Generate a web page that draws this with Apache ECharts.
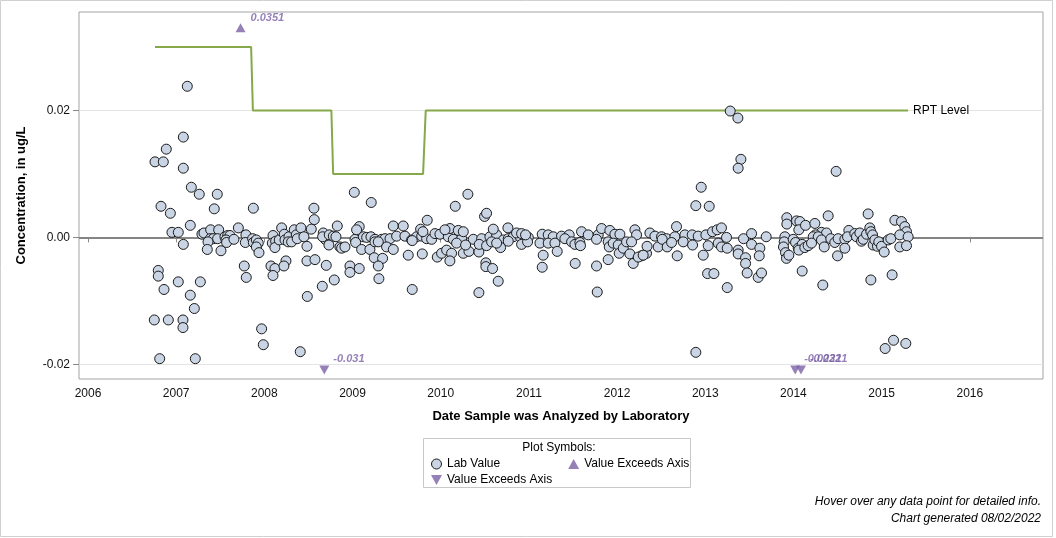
<!DOCTYPE html>
<html><head><meta charset="utf-8">
<script src="https://cdn.jsdelivr.net/npm/echarts@6/dist/echarts.min.js"></script>
<style>html,body{margin:0;padding:0;background:#fff}#c{width:1056px;height:538px}</style>
</head><body><div id="c"></div>
<script>
// Lab values: decimal year of analysis, concentration (ug/L)
const labDates = [
2007.126,2007.081,2006.888,2006.760,2006.854,2007.081,2007.172,2007.262,2007.466,2006.828,2006.934,2007.432,2007.875,2008.562,2008.566,2007.160,2006.952,2007.024,2007.081,
2007.292,2007.315,2007.391,2007.482,2007.387,2007.421,2007.470,2007.361,2007.353,2007.508,2007.553,2007.584,2007.610,2007.565,2007.572,2007.655,2007.705,2007.791,2007.784,2007.867,2007.875,2007.909,2007.931,2007.909,2007.939,2008.098,2008.090,2008.128,2008.120,2008.169,2008.196,2008.226,2008.234,2008.279,2008.271,2008.309,2008.339,2008.362,2008.373,2008.415,2008.449,2008.483,2008.532,2008.668,2008.691,2008.661,2008.736,2008.732,2008.782,2008.827,2008.812,2008.857,
2006.797,2006.797,2007.024,2006.862,2007.274,2007.160,2007.206,2006.752,2006.911,2007.077,2007.077,2007.772,2007.795,2008.075,2008.120,2008.098,2008.245,2008.222,2008.483,2008.574,2008.702,2008.657,2008.793,2008.487,2007.969,2007.988,2008.407,2006.813,2007.217,
2009.028,2009.122,2009.160,2009.209,2009.255,2009.330,2009.368,2009.425,2009.500,2009.594,2009.670,2009.727,2009.784,2009.840,2009.897,2009.935,2009.991,2010.086,2010.143,2010.237,2010.369,2010.464,2010.558,2010.634,2010.710,2010.766,2010.823,2010.899,2010.993,
2008.876,2008.914,2009.035,2009.103,2009.197,2009.254,2009.292,2009.386,2009.462,2009.632,2009.791,2009.677,2009.961,2010.010,2010.067,2010.123,2010.180,2010.104,2010.256,2010.320,2010.282,2010.433,2010.437,2010.520,2010.577,2010.679,2010.634,2010.766,2010.917,2010.985,
2008.971,2008.971,2009.076,2009.246,2009.341,2009.292,2009.299,2009.677,2010.512,2010.512,2010.588,2010.652,2010.433,
2009.020,2009.212,2010.308,2010.165,2010.497,2010.520,2009.847,2009.076,2009.046,2009.462,2009.575,2009.772,2009.798,2010.104,2010.048,2010.199,2010.256,2010.596,2010.762,2010.860,2010.917,2010.962,
2012.954,2012.893,2013.045,
2011.151,2011.219,2011.276,2011.370,2011.457,2011.597,2011.673,2011.786,2011.824,2011.918,2011.975,2012.032,2012.202,2012.221,2012.372,2012.429,2012.504,2012.561,2012.674,2012.655,2012.769,2012.852,2012.920,2013.007,2013.082,2013.135,2013.184,2013.241,
2011.125,2011.219,2011.295,2011.321,2011.408,2011.484,2011.522,2011.578,2011.585,2011.767,2011.899,2011.911,2011.956,2012.013,2012.024,2012.070,2012.107,2012.145,2012.164,2012.277,2012.334,2012.340,2012.466,2012.512,2012.568,2012.618,2012.750,2012.856,2013.033,2013.147,2013.184,2013.249,
2011.162,2011.151,2011.525,2011.767,2011.899,2012.183,2012.240,2012.296,2012.682,2012.977,2013.026,2013.098,2013.249,2011.775,2012.893,
2013.283,2013.370,2013.404,2013.373,2014.484,2014.847,2014.394,
2013.925,2013.925,2014.035,2014.073,2014.061,2014.137,2014.243,2014.318,2014.375,2014.250,2014.224,2014.281,2014.318,2014.349,2014.424,2014.469,2014.507,2014.583,2014.628,2014.613,2014.696,2014.715,2014.753,2014.772,2014.791,2014.829,2014.866,2014.878,2014.897,2014.904,2014.923,2014.953,2014.968,2014.999,2015.029,2015.074,2015.104,2015.150,2015.225,2015.263,2015.282,2015.206,2015.301,2015.206,2015.282,
2013.434,2013.525,2013.525,2013.373,2013.373,2013.457,2013.457,2013.619,2013.612,2013.691,2013.475,2013.600,2013.638,2013.903,2013.895,2013.887,2013.910,2013.921,2013.948,2013.997,2014.024,2014.054,2014.099,2014.061,2014.129,2014.167,2014.205,2014.099,2014.333,2014.500,2014.583,2014.878,2015.119,
2015.040,2015.135,2015.274
];
const labValues = [
0.0238,0.0158,0.0139,0.0119,0.0119,0.0109,0.0079,0.0068,0.0068,0.0049,0.0038,0.0045,0.0046,0.0046,0.0028,0.0019,0.0008,0.0008,-0.0011,
0.0005,0.0007,0.0012,0.0012,-0.0002,-0.0002,-0.0002,-0.0007,-0.0019,-0.0021,0.0001,0.0003,0.0003,-0.0004,-0.0008,-0.0003,0.0015,0.0004,-0.0008,-0.0002,-0.0008,-0.0004,-0.0009,-0.0015,-0.0024,0.0003,-0.0009,-0.0006,-0.0016,-0.0004,0.0015,0.0005,-0.0004,0.0001,-0.0007,-0.0007,0.0012,0.0004,-0.0002,0.0015,0.0001,-0.0014,0.0013,0.0007,-0.0003,0.0001,0.0004,-0.0012,0.0002,0.0018,0.0001,-0.0015,
-0.0052,-0.0061,-0.0070,-0.0082,-0.0070,-0.0091,-0.0112,-0.0130,-0.0130,-0.0130,-0.0142,-0.0045,-0.0063,-0.0045,-0.0049,-0.0060,-0.0037,-0.0045,-0.0037,-0.0035,-0.0044,-0.0077,-0.0067,-0.0093,-0.0144,-0.0169,-0.0180,-0.0191,-0.0191,
-0.0003,0.0001,0.0000,0.0001,-0.0003,-0.0003,-0.0002,-0.0002,0.0002,0.0002,-0.0004,0.0001,0.0002,-0.0002,-0.0003,0.0006,0.0005,0.0001,-0.0003,-0.0002,-0.0003,-0.0002,0.0001,0.0004,-0.0004,-0.0002,0.0001,0.0001,0.0000,
-0.0017,-0.0015,-0.0008,-0.0019,-0.0019,-0.0007,-0.0007,-0.0015,-0.0019,-0.0028,-0.0026,-0.0005,-0.0031,-0.0025,-0.0020,-0.0025,-0.0009,-0.0037,-0.0025,-0.0022,-0.0012,-0.0023,-0.0011,-0.0013,-0.0007,-0.0016,-0.0009,-0.0006,-0.0011,-0.0007,
-0.0045,-0.0055,-0.0049,-0.0032,-0.0033,-0.0045,-0.0065,-0.0082,-0.0040,-0.0046,-0.0049,-0.0069,-0.0087,
0.0071,0.0055,0.0068,0.0049,0.0033,0.0038,0.0027,0.0017,0.0012,0.0018,0.0018,0.0013,0.0009,0.0014,0.0012,0.0011,0.0009,0.0013,0.0015,0.0007,0.0006,0.0004,
0.0079,0.0050,0.0049,
0.0005,0.0004,0.0001,0.0002,0.0004,0.0009,0.0004,0.0004,0.0014,0.0011,0.0005,0.0005,0.0012,0.0004,0.0007,0.0002,0.0001,-0.0002,0.0017,0.0001,0.0004,0.0004,0.0002,0.0004,0.0009,0.0012,0.0015,0.0000,
-0.0009,-0.0009,-0.0009,-0.0022,-0.0002,-0.0007,-0.0011,-0.0008,-0.0013,-0.0003,-0.0007,-0.0015,-0.0009,-0.0012,-0.0025,-0.0017,-0.0007,-0.0026,-0.0007,-0.0029,-0.0025,-0.0014,-0.0015,-0.0003,-0.0015,-0.0008,-0.0007,-0.0012,-0.0013,-0.0009,-0.0015,-0.0017,
-0.0028,-0.0047,-0.0041,-0.0045,-0.0035,-0.0041,-0.0031,-0.0028,-0.0029,-0.0028,-0.0057,-0.0057,-0.0079,-0.0086,-0.0181,
0.0199,0.0188,0.0123,0.0109,0.0104,0.0037,0.0034,
0.0031,0.0021,0.0026,0.0025,0.0012,0.0019,0.0022,0.0008,0.0007,0.0004,0.0001,0.0001,-0.0004,-0.0015,-0.0002,-0.0008,-0.0002,-0.0003,0.0011,0.0001,0.0006,0.0001,0.0007,-0.0006,-0.0003,0.0005,0.0015,0.0009,0.0004,-0.0012,-0.0004,-0.0014,-0.0007,-0.0014,-0.0023,-0.0004,-0.0002,0.0027,0.0025,0.0017,0.0009,0.0004,0.0001,-0.0015,-0.0013,
-0.0002,0.0006,-0.0011,-0.0020,-0.0026,-0.0032,-0.0041,-0.0017,-0.0029,0.0001,-0.0056,-0.0063,-0.0056,0.0001,-0.0007,-0.0015,-0.0024,-0.0033,-0.0028,-0.0003,-0.0008,-0.0017,-0.0011,-0.0020,-0.0016,-0.0013,-0.0009,-0.0053,-0.0075,-0.0029,-0.0017,-0.0067,-0.0059,
-0.0175,-0.0162,-0.0167
];
// RPT level step line
const rptDates  = [2006.76, 2007.85, 2007.87, 2008.76, 2008.78, 2009.80, 2009.83, 2015.30];
const rptValues = [0.03, 0.03, 0.02, 0.02, 0.01, 0.01, 0.02, 0.02];
// values that exceed the axis range
const upDates = [2007.73];
const upValues = [0.0351];
const downDates = [2008.68, 2014.02, 2014.085];
const downValues = [-0.031, -0.0221, -0.0321];
// axes
const xTicks = [2006, 2007, 2008, 2009, 2010, 2011, 2012, 2013, 2014, 2015, 2016];
const yTicks = [-0.02, 0, 0.02];
const xMin = 2005.898, xMax = 2016.83;
const yMin = -0.0223, yMax = 0.0355;
const upMarkerLevel = 0.033, downMarkerLevel = -0.0209;

const FONT = "'Liberation Sans', Arial, sans-serif";
const purple = '#7b61a6';

const labData = labDates.map((d, i) => [d, labValues[i]]);
const rptData = rptDates.map((d, i) => [d, rptValues[i]]);
const upData = upDates.map(d => [d, upMarkerLevel]);
const downData = downDates.map(d => [d, downMarkerLevel]);
const downPath = 'path://M0,0L10,0L5,9Z';

const chart = echarts.init(document.getElementById('c'), null, {renderer: 'canvas'});
chart.setOption({
  animation: false,
  backgroundColor: '#fff',
  textStyle: {fontFamily: FONT},
  grid: {left: 79, top: 12, right: 13, bottom: 159, show: true, borderColor: '#a3a3a3', borderWidth: 1, backgroundColor: 'transparent'},
  xAxis: {
    type: 'value', min: xMin, max: xMax,
    name: 'Date Sample was Analyzed by Laboratory', nameLocation: 'middle', nameGap: 31,
    nameTextStyle: {fontFamily: FONT, fontWeight: 'bold', fontSize: 13, color: '#000'},
    axisLine: {show: false},
    axisTick: {show: true, customValues: xTicks, length: 5, inside: false, lineStyle: {color: '#888'}},
    axisLabel: {customValues: xTicks, formatter: v => String(Math.round(v)), fontFamily: FONT, fontSize: 12, color: '#111', margin: 9},
    splitLine: {show: false}
  },
  yAxis: {
    type: 'value', min: yMin, max: yMax,
    name: 'Concentration, in ug/L', nameLocation: 'middle', nameGap: 51, nameRotate: 90,
    nameTextStyle: {fontFamily: FONT, fontWeight: 'bold', fontSize: 13, color: '#000'},
    axisLine: {show: false},
    axisTick: {show: true, customValues: yTicks, length: 6, inside: false, lineStyle: {color: '#888'}},
    axisLabel: {customValues: yTicks, formatter: v => v.toFixed(2), fontFamily: FONT, fontSize: 12, color: '#111', margin: 9},
    splitLine: {show: false}
  },
  legend: [
    {left: 426, top: 453, orient: 'horizontal', itemGap: 68, itemWidth: 11, itemHeight: 10,
     textStyle: {fontFamily: FONT, fontSize: 12, color: '#000'},
     formatter: n => n.replace(/ \((high|low)\)$/, ''),
     data: [{name: 'Lab Value', icon: 'circle', itemStyle: {borderWidth: 1}}, {name: 'Value Exceeds Axis (high)', icon: 'triangle'}]},
    {left: 426, top: 469, orient: 'horizontal', itemWidth: 11, itemHeight: 10,
     textStyle: {fontFamily: FONT, fontSize: 12, color: '#000'},
     formatter: n => n.replace(/ \((high|low)\)$/, ''),
     data: [{name: 'Value Exceeds Axis (low)', icon: downPath}]}
  ],
  graphic: [
    {type: 'rect', silent: true, shape: {x: 0.5, y: 0.5, width: 1052, height: 536}, style: {fill: 'none', stroke: '#d0d0d0', lineWidth: 1}},
    {type: 'rect', silent: true, shape: {x: 423.5, y: 438.5, width: 267, height: 49}, style: {fill: 'none', stroke: '#c8c8c8', lineWidth: 1}},
    {type: 'text', silent: true, style: {text: 'Plot Symbols:', x: 559, y: 448, align: 'center', verticalAlign: 'middle', font: '12px ' + FONT, fill: '#000'}},
    {type: 'text', silent: true, style: {text: 'Hover over any data point for detailed info.', x: 1041, y: 502, align: 'right', verticalAlign: 'middle', font: 'italic 12px ' + FONT, fill: '#000'}},
    {type: 'text', silent: true, style: {text: 'Chart generated 08/02/2022', x: 1041, y: 519, align: 'right', verticalAlign: 'middle', font: 'italic 12px ' + FONT, fill: '#000'}}
  ],
  series: [
    {
      name: 'refs', type: 'line', data: [], silent: true, z: 1,
      markLine: {
        silent: true, symbol: 'none', label: {show: false}, z: 1,
        data: [
          {yAxis: 0.02, lineStyle: {color: '#e4e4e4', width: 1, type: 'solid'}},
          {yAxis: -0.02, lineStyle: {color: '#e4e4e4', width: 1, type: 'solid'}},
          {yAxis: 0, lineStyle: {color: '#858585', width: 2, type: 'solid'}}
        ]
      }
    },
    {
      name: 'RPT Level', type: 'line', data: rptData, symbol: 'none', z: 3,
      lineStyle: {color: '#86a84a', width: 2},
      endLabel: {show: true, formatter: 'RPT Level', color: '#000', fontFamily: FONT, fontSize: 12, distance: 5, textBorderWidth: 0}
    },
    {
      name: 'Lab Value', type: 'scatter', data: labData, z: 4,
      symbol: 'circle', symbolSize: 10,
      itemStyle: {color: '#c9d4e4', borderColor: '#1a1a1a', borderWidth: 1, opacity: 1}
    },
    {
      name: 'Value Exceeds Axis (high)', type: 'scatter', data: upData, z: 5,
      symbol: 'triangle', symbolSize: [10, 9],
      itemStyle: {color: purple},
      label: {show: true, position: 'right', distance: 5, offset: [0, -10],
        formatter: p => String(upValues[p.dataIndex]),
        fontFamily: FONT, fontStyle: 'italic', fontWeight: 'bold', fontSize: 11, color: purple}
    },
    {
      name: 'Value Exceeds Axis (low)', type: 'scatter', data: downData, z: 5,
      symbol: downPath, symbolSize: [10, 9],
      itemStyle: {color: purple},
      label: {show: true, position: 'right', distance: 4, offset: [0, -11],
        formatter: p => String(downValues[p.dataIndex]),
        fontFamily: FONT, fontStyle: 'italic', fontWeight: 'bold', fontSize: 11, color: purple}
    }
  ]
});
</script>
</body></html>
